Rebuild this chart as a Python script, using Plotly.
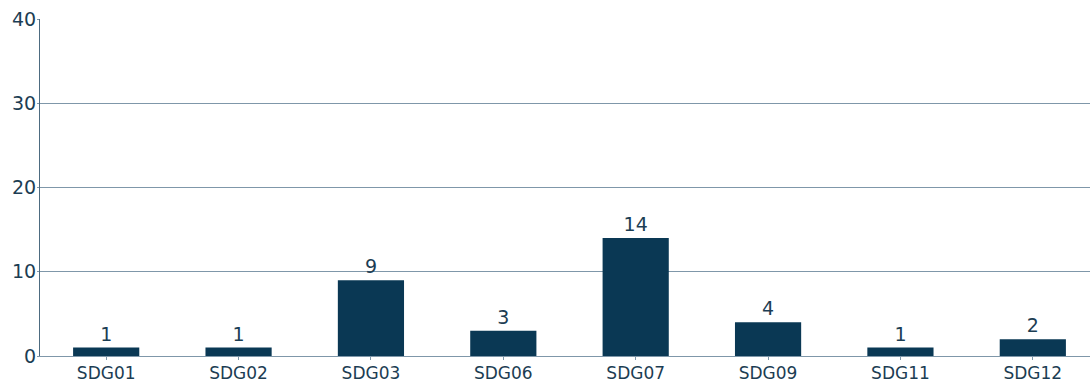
import plotly.graph_objects as go

categories = ["SDG01", "SDG02", "SDG03", "SDG06", "SDG07", "SDG09", "SDG11", "SDG12"]
values = [1, 1, 9, 3, 14, 4, 1, 2]
y_ticks = [0, 10, 20, 30, 40]

text_color = "#1c3d53"
bar_color = "#0a3854"
grid_color = "#7f97a9"
axis_color = "#4d6b80"

fig = go.Figure(go.Bar(
    x=categories, y=values,
    marker=dict(color=bar_color, line=dict(width=0)),
    text=[str(v) for v in values],
    textposition="outside",
    cliponaxis=False,
    textfont=dict(size=19, color=text_color, family="DejaVu Sans"),
))

fig.update_layout(
    width=1099, height=380,
    margin=dict(l=40, r=0, t=19, b=24),
    plot_bgcolor="white", paper_bgcolor="white",
    bargap=0.5,
    showlegend=False,
    font=dict(family="DejaVu Sans", size=17, color=text_color),
)
fig.update_xaxes(
    showline=True, linecolor=grid_color, linewidth=1,
    ticks="outside", ticklen=3, tickcolor=grid_color,
    showgrid=False, automargin=False,
    tickfont=dict(size=17, color=text_color),
    ticklabelstandoff=-1,
)
fig.update_yaxes(
    range=[0, 40], tickvals=y_ticks,
    showline=True, linecolor=axis_color, linewidth=1,
    ticks="outside", ticklen=2, tickcolor=grid_color,
    showgrid=True, gridcolor=grid_color, gridwidth=1,
    zeroline=False, automargin=False,
    tickfont=dict(size=19, color=text_color),
    ticklabelstandoff=-3,
)

fig.write_html("out.html", config={"displayModeBar": False})

with open("out.html", "r", encoding="utf-8") as f:
    html = f.read()
html = html.replace("<body>", "<body style=\"margin:0;padding:0;\">", 1)
html = html.replace("<head>", "<head><style>html,body{margin:0;padding:0;overflow:hidden;}</style>", 1)
with open("out.html", "w", encoding="utf-8") as f:
    f.write(html)
